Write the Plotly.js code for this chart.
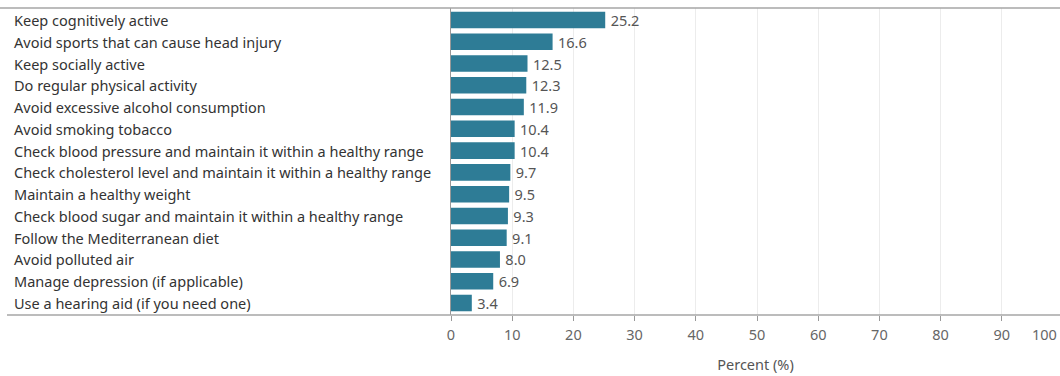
<!DOCTYPE html>
<html><head><meta charset="utf-8">
<script src="https://cdn.plot.ly/plotly-3.0.1.min.js"></script>
<style>html,body{margin:0;padding:0;overflow:hidden;background:#fff}</style>
</head><body><div id="chart" style="width:1060px;height:376px"></div>
<script>
const categories = [
  "Keep cognitively active",
  "Avoid sports that can cause head injury",
  "Keep socially active",
  "Do regular physical activity",
  "Avoid excessive alcohol consumption",
  "Avoid smoking tobacco",
  "Check blood pressure and maintain it within a healthy range",
  "Check cholesterol level and maintain it within a healthy range",
  "Maintain a healthy weight",
  "Check blood sugar and maintain it within a healthy range",
  "Follow the Mediterranean diet",
  "Avoid polluted air",
  "Manage depression (if applicable)",
  "Use a hearing aid (if you need one)"
];
const percents = [25.2, 16.6, 12.5, 12.3, 11.9, 10.4, 10.4, 9.7, 9.5, 9.3, 9.1, 8.0, 6.9, 3.4];
const tickValues = [0,10,20,30,40,50,60,70,80,90];
const tickLabels = ["0","10","20","30","40","50","60","70","80","90"];
const lastTickLabel = "100";
const axisTitle = "Percent (%)";

const FONT = "'Noto Sans', 'Open Sans', sans-serif";
const FS = 14.5;
const L = 451, W = 1060, PW = W - L;

const trace = {
  type: 'bar', orientation: 'h',
  y: categories, x: percents,
  marker: {color: '#2e7c96'},
  text: percents.map(v => '\u2009' + v.toFixed(1)),
  textposition: 'outside',
  constraintext: 'none',
  textfont: {family: FONT, size: FS, color: '#555'},
  cliponaxis: false,
  hoverinfo: 'none'
};

const annotations = categories.map(c => ({
  xref: 'paper', yref: 'y', x: (12 - L) / PW, y: c,
  xanchor: 'left', yanchor: 'middle', showarrow: false,
  text: c, font: {family: FONT, size: FS, color: '#333'}
}));
annotations.push({
  xref: 'paper', yref: 'paper', x: 1 - 1 / PW, y: 0, yshift: -19,
  xanchor: 'right', yanchor: 'middle', showarrow: false,
  text: lastTickLabel, font: {family: FONT, size: FS, color: '#666'}
});

const layout = {
  width: 1060, height: 376,
  margin: {l: L, r: 0, t: 8, b: 61},
  paper_bgcolor: '#fff', plot_bgcolor: '#fff',
  bargap: 0.24,
  showlegend: false,
  xaxis: {
    range: [0, PW / 6.12], fixedrange: true,
    tickvals: tickValues, ticktext: tickLabels,
    ticks: 'outside', ticklen: 5, tickcolor: '#999', tickwidth: 1,
    ticklabelstandoff: 2,
    tickfont: {family: FONT, size: FS, color: '#666'},
    showgrid: true, gridcolor: '#ececec', gridwidth: 1,
    zeroline: false, showline: false,
    title: {text: axisTitle, font: {family: FONT, size: FS, color: '#555'}, standoff: 16}
  },
  yaxis: {
    autorange: 'reversed', showticklabels: false, ticks: '',
    showgrid: false, zeroline: false,
    showline: true, linecolor: '#999', linewidth: 1
  },
  shapes: [
    {type: 'line', xref: 'paper', yref: 'paper', x0: -L / PW, x1: 1, y0: 1, y1: 1,
     line: {color: '#a6a6a6', width: 1.5}},
    {type: 'line', xref: 'paper', yref: 'paper', x0: (7 - L) / PW, x1: 1, y0: 0, y1: 0,
     line: {color: '#a6a6a6', width: 1.5}}
  ],
  annotations: annotations
};

Plotly.newPlot('chart', [trace], layout, {displayModeBar: false, staticPlot: true});
</script></body></html>
